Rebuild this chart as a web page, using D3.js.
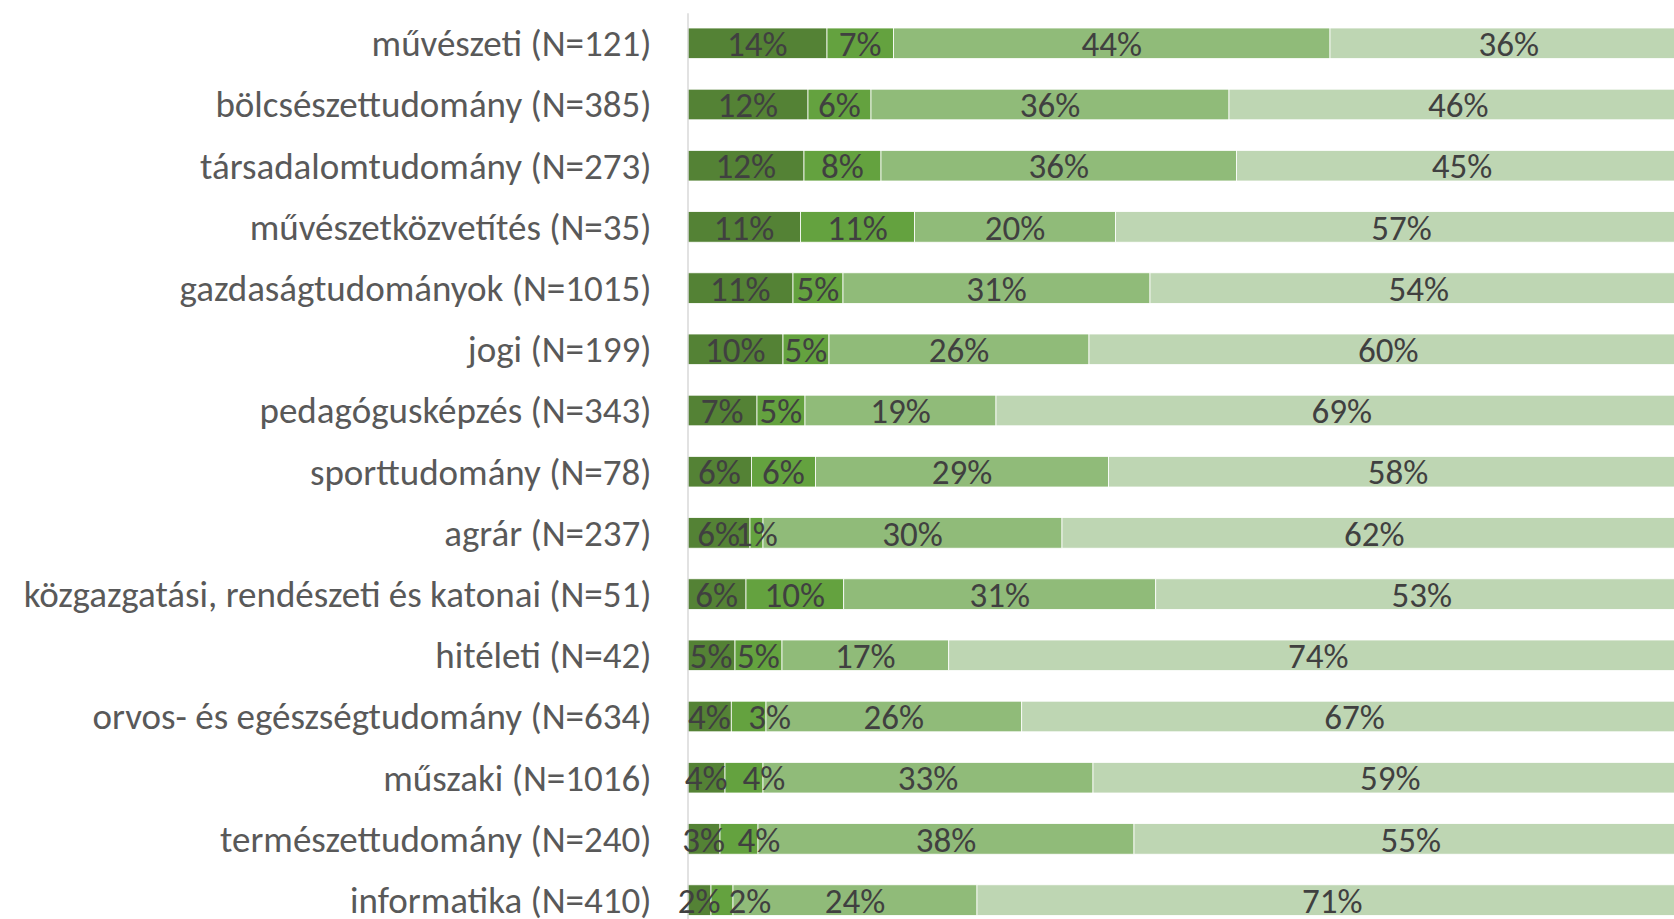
<!DOCTYPE html>
<html lang="hu">
<head>
<meta charset="utf-8">
<title>Megoszlás képzési területenként</title>
<script src="https://cdn.jsdelivr.net/npm/d3@7"></script>
<style>
  html, body { margin: 0; padding: 0; background: #fff; overflow: hidden; }
  svg { display: block; }
  text { font-family: Calibri, Carlito, Lato, "Open Sans", sans-serif; }
</style>
</head>
<body>
<svg id="chart" width="1674" height="919"></svg>
<script>
// categories, top to bottom
const fieldNames = [
  "művészeti",
  "bölcsészettudomány",
  "társadalomtudomány",
  "művészetközvetítés",
  "gazdaságtudományok",
  "jogi",
  "pedagógusképzés",
  "sporttudomány",
  "agrár",
  "közgazgatási, rendészeti és katonai",
  "hitéleti",
  "orvos- és egészségtudomány",
  "műszaki",
  "természettudomány",
  "informatika",
];
const sampleSizes = [121, 385, 273, 35, 1015, 199, 343, 78, 237, 51, 42, 634, 1016, 240, 410];

// shares in % (labels show them rounded)
const share1 = [13.95, 12.05, 11.65, 11.3, 10.55, 9.55, 6.95, 6.4, 6.25, 5.85, 4.75, 4.38, 3.75, 3.25, 2.35];
const share2 = [6.65, 6.3, 7.7, 11.4, 5.0, 4.6, 4.8, 6.4, 1.3, 9.77, 4.7, 3.47, 3.8, 3.8, 2.2];
const share3 = [43.65, 35.8, 35.55, 20.1, 30.7, 26.0, 19.1, 29.3, 29.9, 31.2, 16.67, 25.57, 33.0, 37.6, 24.4];
const share4 = [35.75, 45.85, 45.1, 57.2, 53.75, 59.85, 69.15, 57.9, 62.45, 53.2, 73.9, 66.58, 59.45, 55.35, 71.05];

const seriesKeys = ["s1", "s2", "s3", "s4"];
const seriesColors = ["#548235", "#64a23f", "#90bb79", "#bed6b3"];

document.addEventListener("DOMContentLoaded", function () {
  const svg = d3.select("#chart");

  const rows = fieldNames.map((name, i) => ({
    label: `${name} (N=${sampleSizes[i]})`,
    s1: share1[i],
    s2: share2[i],
    s3: share3[i],
    s4: share4[i],
  }));

  // a few small labels were dragged right by hand in the original (px)
  const labelNudge = {
    "s2|orvos- és egészségtudomány (N=634)": 21,
    "s2|műszaki (N=1016)": 20,
    "s2|természettudomány (N=240)": 20,
    "s2|informatika (N=410)": 28,
  };

  // the chart is cropped on the right: 100% lies a bit past the edge
  const x = d3.scaleLinear().domain([0, 100]).range([687.5, 1687.5]);

  const y = d3
    .scaleBand()
    .domain(rows.map((d) => d.label))
    .range([12.7, 12.7 + 61.2 * rows.length])
    .paddingInner(0.5)
    .paddingOuter(0.25);

  const stacked = d3.stack().keys(seriesKeys)(rows);

  const color = d3.scaleOrdinal().domain(seriesKeys).range(seriesColors);

  // bars
  const layers = svg
    .append("g")
    .attr("class", "bars")
    .selectAll("g")
    .data(stacked)
    .join("g")
    .attr("fill", (d) => color(d.key));

  layers
    .selectAll("rect")
    .data((d) => d)
    .join("rect")
    .attr("x", (d) => x(d[0]))
    .attr("y", (d) => y(d.data.label))
    .attr("width", (d) => x(d[1]) - x(d[0]))
    .attr("height", y.bandwidth())
    .attr("stroke", "#ffffff")
    .attr("stroke-width", 0.8);

  // category axis (left)
  const yAxis = svg
    .append("g")
    .attr("transform", `translate(${x(0)},0)`)
    .call(d3.axisLeft(y).tickSize(0).tickPadding(36));

  yAxis.select(".domain").attr("stroke", "#d9d9d9").attr("stroke-width", 1.5);
  yAxis
    .selectAll("text")
    .attr("fill", "#595959")
    .style("font-size", "37px")
    .attr("dy", "0.35em");

  // value labels
  const labels = svg.append("g").attr("class", "labels");
  stacked.forEach((layer) => {
    labels
      .selectAll(null)
      .data(layer)
      .join("text")
      .attr(
        "x",
        (d) =>
          (x(d[0]) + x(d[1])) / 2 +
          (labelNudge[`${layer.key}|${d.data.label}`] || 0)
      )
      .attr("y", (d) => y(d.data.label) + y.bandwidth() / 2)
      .attr("dy", "0.36em")
      .attr("text-anchor", "middle")
      .attr("fill", "#404040")
      .style("font-size", "35px")
      .text((d) => Math.round(d[1] - d[0]) + "%");
  });
});
</script>
</body>
</html>
